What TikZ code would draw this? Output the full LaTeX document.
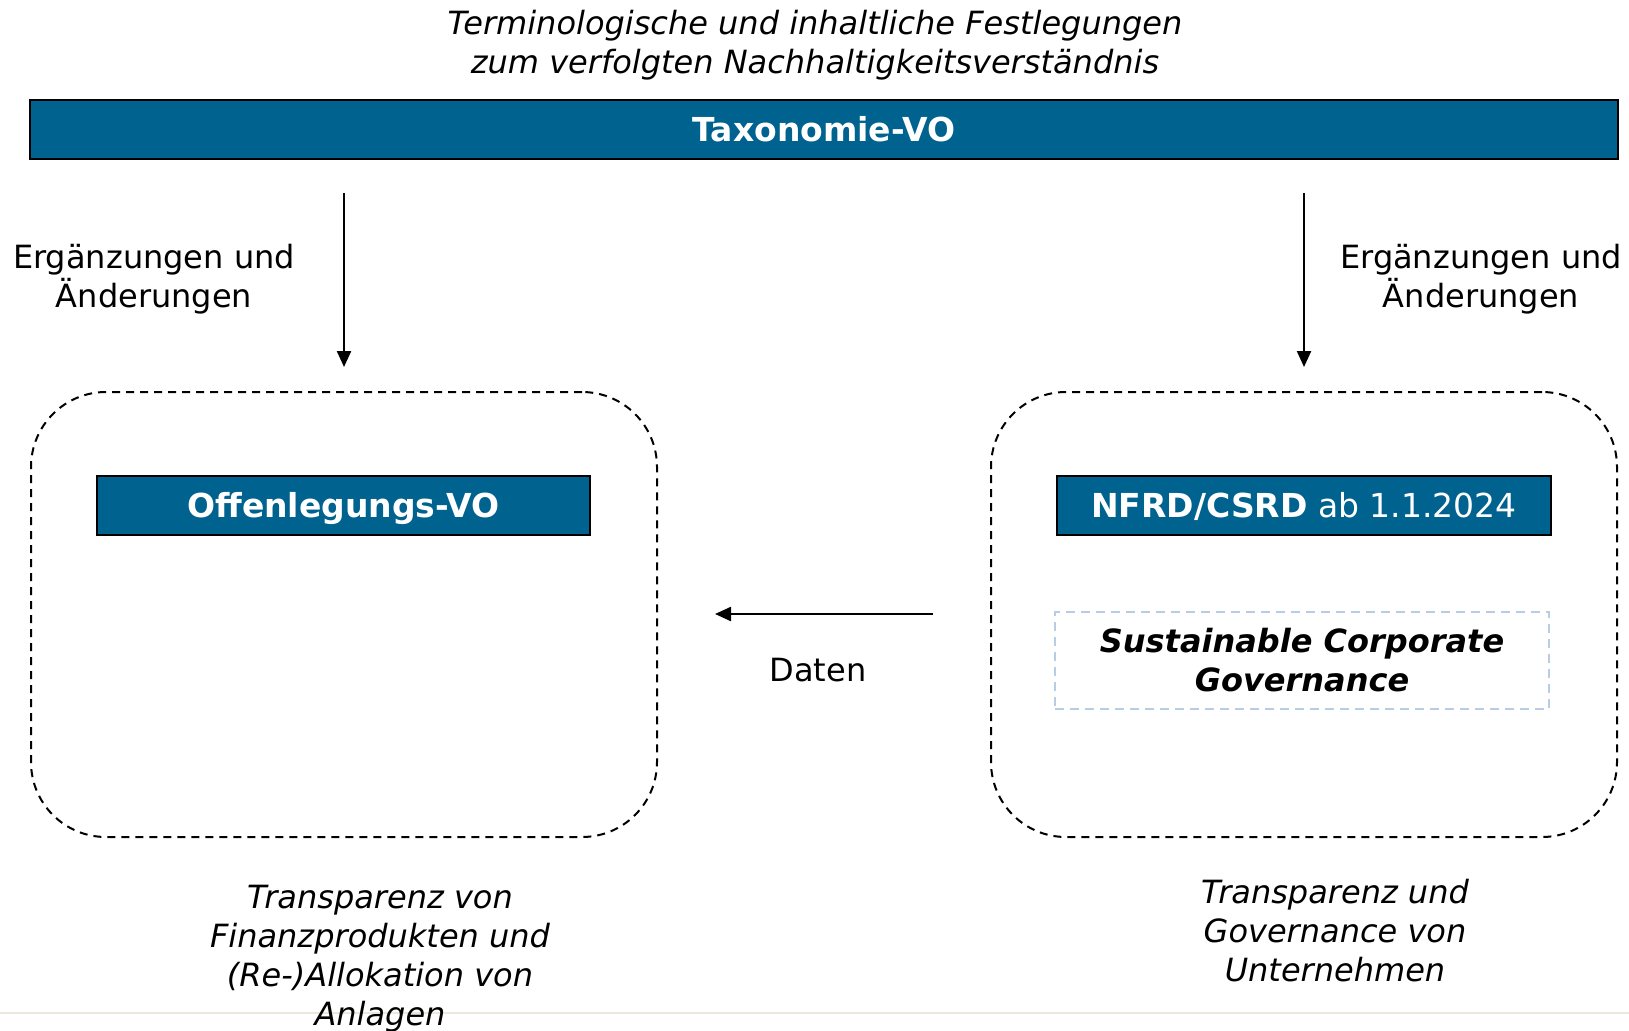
\documentclass[tikz,border=0pt]{standalone}
\usepackage{fontspec}
\setmainfont{DejaVu Sans}
\usetikzlibrary{arrows.meta}
\definecolor{tblue}{RGB}{0,98,143}
\definecolor{scgblue}{RGB}{184,204,228}
\definecolor{sepgray}{RGB}{236,232,222}
\begin{document}
\begin{tikzpicture}[x=1pt,y=-1pt,
  every node/.style={inner sep=0pt, outer sep=0pt},
  txt/.style={align=center, font=\fontsize{32}{39}\selectfont},
  itxt/.style={align=center, font=\fontsize{32}{39}\selectfont\itshape},
  bluebar/.style={draw=black, line width=2pt, fill=tblue, text=white, font=\fontsize{33}{39}\selectfont, text height=24pt, text depth=0pt},
  roundbox/.style={draw=black, line width=2pt, dash pattern=on 8pt off 6pt, rounded corners=75pt},
  scgbox/.style={draw=scgblue, line width=2pt, dash pattern=on 9pt off 6pt, align=center, font=\fontsize{32}{39}\selectfont\bfseries\itshape},
  arr/.style={line width=2.3pt, -{Triangle[length=16pt,width=14pt]}}
]
\useasboundingbox (0,0) rectangle (1629,1030);
\fill[white] (0,0) rectangle (1629,1030);
\coordinate (sepL) at (0,1013);
\coordinate (sepR) at (1629,1013);
\draw[sepgray, line width=2pt] (sepL) -- (sepR);

\node[itxt] (title) at (815,45.5) {Terminologische und inhaltliche Festlegungen\\zum verfolgten Nachhaltigkeitsverständnis};
\node[bluebar, minimum width=1588pt, minimum height=59pt] (tax) at (824,129.5) {\bfseries Taxonomie-VO};

\coordinate (la1) at (344,193);
\coordinate (la2) at (344,367);
\coordinate (ra1) at (1304,193);
\coordinate (ra2) at (1304,367);
\draw[arr] (la1) -- (la2);
\draw[arr] (ra1) -- (ra2);

\node[txt] (lblL) at (154,279.5) {Ergänzungen und\\Änderungen};
\node[txt] (lblR) at (1481,279.5) {Ergänzungen und\\Änderungen};

\node[roundbox, minimum width=626pt, minimum height=445pt] (boxL) at (344,614.5) {};
\node[roundbox, minimum width=626pt, minimum height=445pt] (boxR) at (1304,614.5) {};

\node[bluebar, minimum width=493pt, minimum height=59pt] (offen) at (343.5,505.5) {\bfseries Offenlegungs-VO};
\node[bluebar, minimum width=494pt, minimum height=59pt] (nfrd) at (1304,505.5) {\textbf{NFRD/CSRD} ab 1.1.2024};
\node[scgbox, minimum width=494pt, minimum height=97pt] (scg) at (1302,660.5) {Sustainable Corporate\\Governance};

\coordinate (da1) at (933,614);
\coordinate (da2) at (715,614);
\draw[arr] (da1) -- (da2);
\node[txt] (daten) at (818,670) {Daten};

\node[itxt] (bl) at (380,958.5) {Transparenz von\\Finanzprodukten und\\(Re-)Allokation von\\Anlagen};
\node[itxt] (br) at (1335,931) {Transparenz und\\Governance von\\Unternehmen};
\end{tikzpicture}
\end{document}
